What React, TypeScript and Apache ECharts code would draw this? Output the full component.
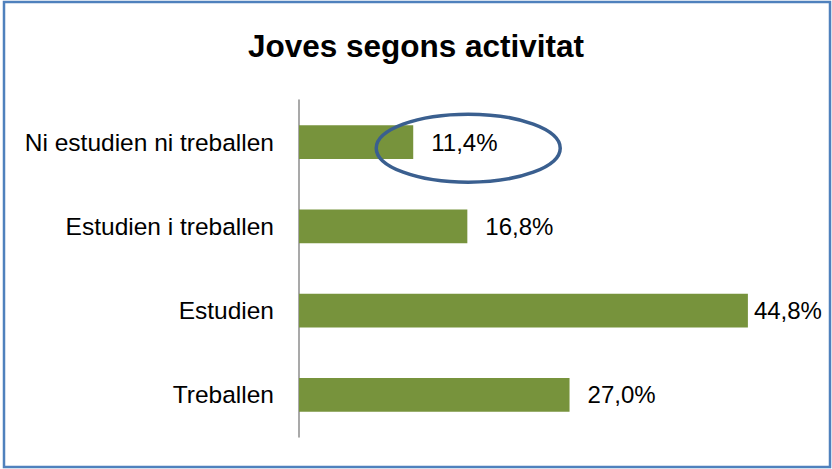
import React, { useEffect, useRef } from "react";
import * as echarts from "echarts";

const categories = [
  "Ni estudien ni treballen",
  "Estudien i treballen",
  "Estudien",
  "Treballen",
];
const values = [11.4, 16.8, 44.8, 27.0];
const titleText = "Joves segons activitat";
const highlightedIndex = 0;

const fmt = (v: number) => v.toFixed(1).replace(".", ",") + "%";

export default function App() {
  const ref = useRef<HTMLDivElement>(null);
  useEffect(() => {
    if (!ref.current) return;
    const chart = echarts.init(ref.current, null, { renderer: "svg" });
    const font = "'Liberation Sans', Arial, sans-serif";
    const maxV = Math.max(...values);
    chart.setOption({
      animation: false,
      backgroundColor: "#ffffff",
      title: {
        text: titleText,
        left: "center",
        top: 25,
        textStyle: { fontFamily: font, fontWeight: "bold", fontSize: 31.5, color: "#000" },
      },
      grid: { left: 299, right: 32, top: 100, bottom: 32 },
      xAxis: {
        type: "value",
        min: 0,
        max: 50,
        show: false,
      },
      yAxis: {
        type: "category",
        data: categories,
        inverse: true,
        axisLine: { show: true, lineStyle: { color: "#8c8c8c", width: 1.5 } },
        axisTick: { show: false },
        axisLabel: { fontFamily: font, fontSize: 24.5, color: "#000", margin: 25 },
      },
      series: [
        {
          type: "bar",
          data: values.map((v) =>
            v === maxV ? { value: v, label: { distance: 6 } } : { value: v }
          ),
          barCategoryGap: "60%",
          itemStyle: { color: "#77933C" },
          label: {
            show: true,
            position: "right",
            distance: 18,
            fontFamily: font,
            fontSize: 24,
            color: "#000",
            formatter: (p: any) => fmt(p.value),
          },
        },
      ],
    });
    const pt = chart.convertToPixel({ gridIndex: 0 }, [values[highlightedIndex], highlightedIndex]) as number[];
    chart.setOption({
      graphic: [
        {
          type: "rect",
          shape: { x: 4, y: 2, width: 826, height: 465 },
          style: { fill: "none", stroke: "#4F81BD", lineWidth: 2.5 },
          silent: true,
        },
        {
          type: "ellipse",
          shape: { cx: pt[0] + 55, cy: pt[1] + 6, rx: 92, ry: 34 },
          style: { fill: "none", stroke: "#3A5F8F", lineWidth: 3.5 },
          silent: true,
          z: 100,
        },
      ],
    });
    return () => chart.dispose();
  }, []);
  return <div ref={ref} style={{ position: "fixed", left: 0, top: 0, width: 832, height: 469 }} />;
}
